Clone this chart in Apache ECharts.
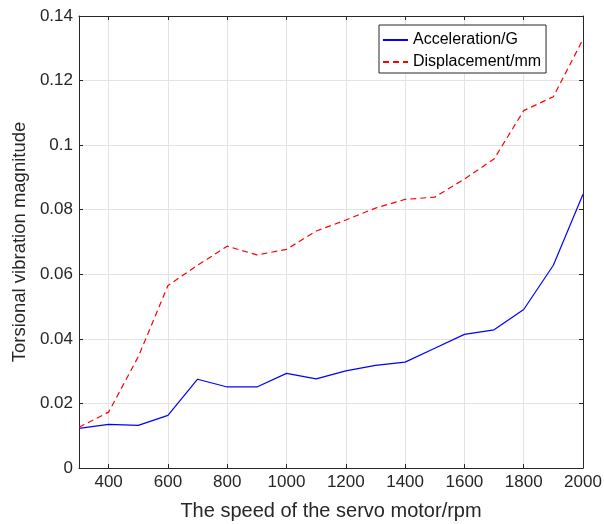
<!DOCTYPE html>
<html>
<head>
<meta charset="utf-8">
<script src="https://cdn.jsdelivr.net/npm/echarts@6/dist/echarts.min.js"></script>
<style>
  html, body { margin: 0; padding: 0; background: #fff; }
  #chart { width: 604px; height: 524px; }
</style>
</head>
<body>
<div id="chart"></div>
<script>
const speed = [300, 400, 500, 600, 700, 800, 900, 1000, 1100, 1200, 1300, 1400, 1500, 1600, 1700, 1800, 1900, 2000];
const acceleration = [0.0123, 0.0135, 0.0132, 0.0163, 0.0275, 0.0251, 0.0251, 0.0293, 0.0276, 0.0301, 0.0318, 0.0328, 0.0371, 0.0414, 0.0428, 0.0491, 0.0628, 0.0848];
const displacement = [0.0126, 0.0173, 0.0345, 0.0565, 0.0628, 0.0687, 0.0660, 0.0677, 0.0734, 0.0768, 0.0805, 0.0832, 0.0839, 0.0895, 0.0957, 0.1107, 0.1150, 0.1328];
const xTicks = [400, 600, 800, 1000, 1200, 1400, 1600, 1800, 2000];

const font = 'Liberation Sans, Arial, sans-serif';
const ink = '#262626';
const gridGray = '#e3e3e3';

const chart = echarts.init(document.getElementById('chart'));

// frame axes on top / right: line + inward ticks, no labels
const frameX = {
  type: 'value',
  position: 'top',
  min: 300,
  max: 2000,
  axisLine: { show: true, onZero: false, lineStyle: { color: ink, width: 1 } },
  axisTick: { show: true, inside: true, length: 4, lineStyle: { color: ink }, customValues: xTicks },
  axisLabel: { show: false, customValues: xTicks },
  splitLine: { show: false }
};
const frameY = {
  type: 'value',
  position: 'right',
  min: 0,
  max: 0.14,
  interval: 0.02,
  axisLine: { show: true, onZero: false, lineStyle: { color: ink, width: 1 } },
  axisTick: { show: true, inside: true, length: 4, lineStyle: { color: ink } },
  axisLabel: { show: false },
  splitLine: { show: false }
};

const option = {
  animation: false,
  textStyle: { fontFamily: font },
  grid: { left: 79, right: 21, top: 16, bottom: 56, containLabel: false, outerBoundsMode: 'none' },
  legend: {
    orient: 'vertical',
    left: 379,
    top: 25,
    padding: [6, 5, 2, 3],
    itemGap: 4,
    itemWidth: 25,
    itemHeight: 14,
    borderColor: ink,
    borderWidth: 1,
    backgroundColor: '#fff',
    itemStyle: { opacity: 0 },
    textStyle: { fontFamily: font, fontSize: 16, color: '#000', lineHeight: 18 },
    data: ['Acceleration/G', 'Displacement/mm']
  },
  xAxis: [
    {
      type: 'value',
      min: 300,
      max: 2000,
      name: 'The speed of the servo motor/rpm',
      nameLocation: 'middle',
      nameGap: 33,
      nameTextStyle: { fontFamily: font, fontSize: 20, color: ink },
      axisLine: { show: true, onZero: false, lineStyle: { color: ink, width: 1 } },
      axisTick: { show: true, inside: true, length: 4, lineStyle: { color: ink }, customValues: xTicks },
      axisLabel: {
        fontFamily: font, fontSize: 17, color: ink, margin: 6,
        customValues: xTicks, formatter: v => String(v)
      },
      splitLine: { show: true, lineStyle: { color: gridGray, width: 1 } }
    },
    frameX
  ],
  yAxis: [
    {
      type: 'value',
      min: 0,
      max: 0.14,
      interval: 0.02,
      name: 'Torsional vibration magnitude',
      nameLocation: 'middle',
      nameGap: 41,
      nameTextStyle: { fontFamily: font, fontSize: 18.5, color: ink },
      axisLine: { show: true, onZero: false, lineStyle: { color: ink, width: 1 } },
      axisTick: { show: true, inside: true, length: 4, lineStyle: { color: ink } },
      axisLabel: { fontFamily: font, fontSize: 17, color: ink, margin: 6 },
      splitLine: { show: true, lineStyle: { color: gridGray, width: 1 } }
    },
    frameY
  ],
  series: [
    {
      name: 'Acceleration/G',
      type: 'line',
      symbol: 'none',
      data: speed.map((s, i) => [s, acceleration[i]]),
      lineStyle: { color: '#0000ff', width: 1.2 },
      itemStyle: { color: '#0000ff' }
    },
    {
      name: 'Displacement/mm',
      type: 'line',
      symbol: 'none',
      data: speed.map((s, i) => [s, displacement[i]]),
      lineStyle: { color: '#ff0000', width: 1.2, type: [6, 4] },
      itemStyle: { color: '#ff0000' }
    }
  ]
};

chart.setOption(option);
</script>
</body>
</html>
